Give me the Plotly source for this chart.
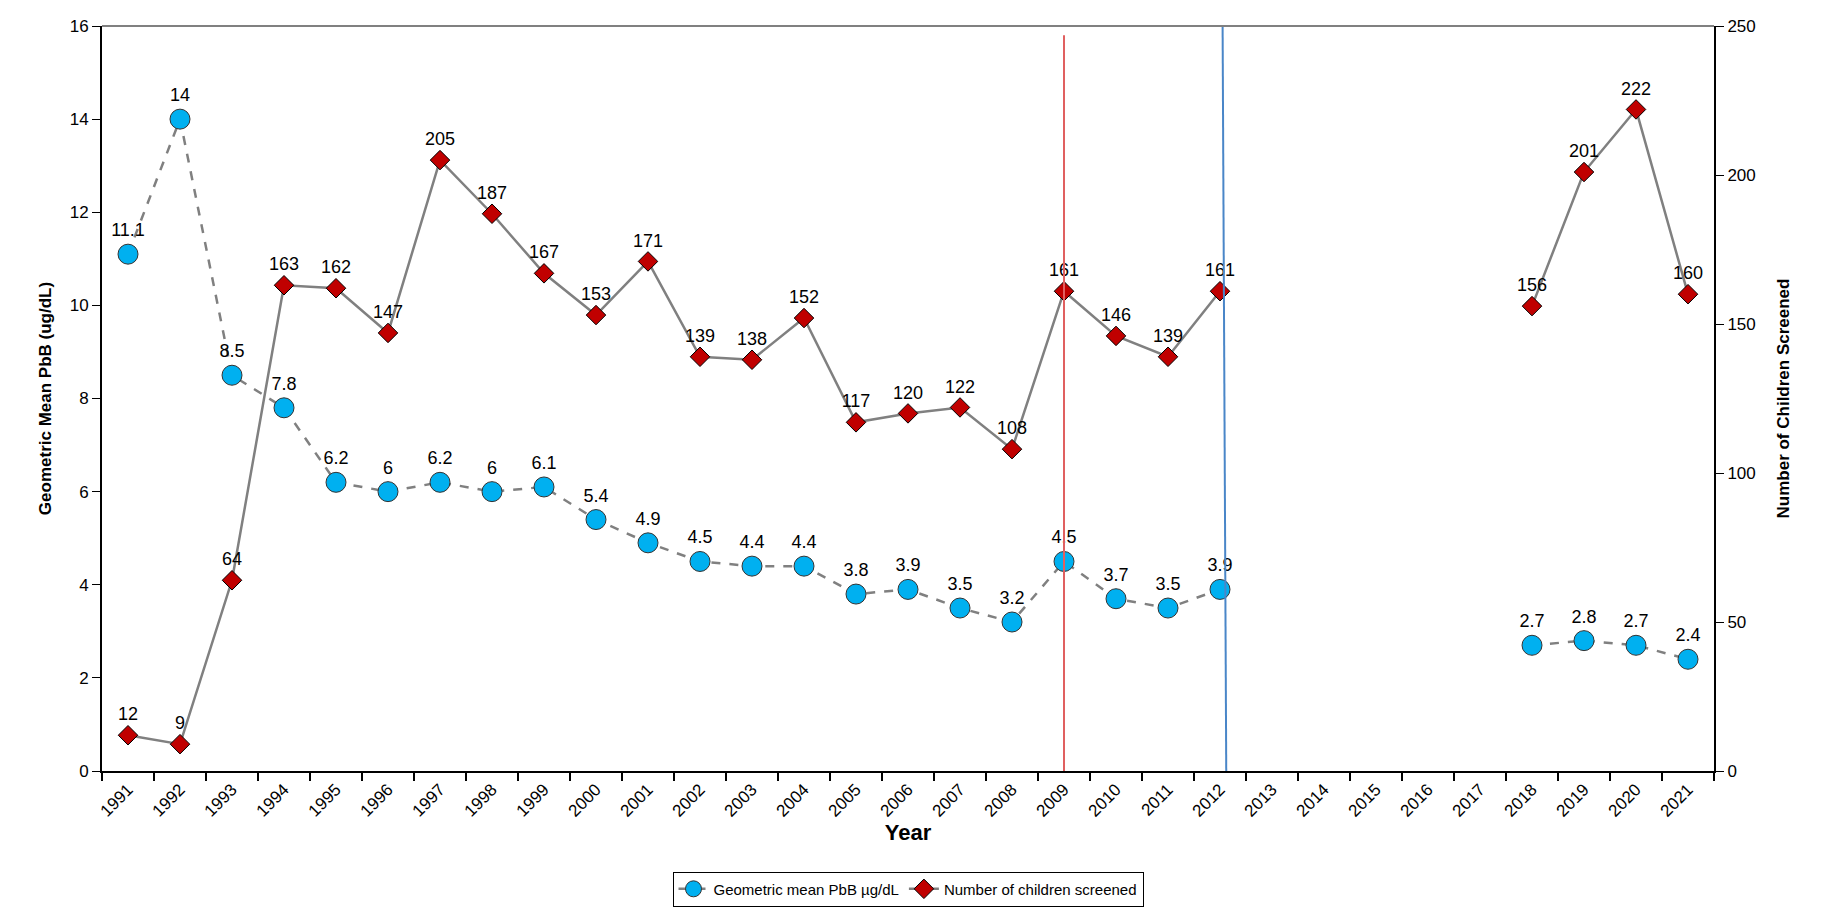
import plotly.graph_objects as go

years = [str(y) for y in range(1991, 2022)]
pbb = [11.1, 14, 8.5, 7.8, 6.2, 6, 6.2, 6, 6.1, 5.4, 4.9, 4.5, 4.4, 4.4, 3.8, 3.9, 3.5, 3.2, 4.5, 3.7, 3.5, 3.9,
       None, None, None, None, None, 2.7, 2.8, 2.7, 2.4]
screened = [12, 9, 64, 163, 162, 147, 205, 187, 167, 153, 171, 139, 138, 152, 117, 120, 122, 108, 161, 146, 139, 161,
            None, None, None, None, None, 156, 201, 222, 160]

idx = list(range(len(years)))
font = "Liberation Sans, Arial, sans-serif"

def lab(v):
    return "" if v is None else f"{v:g}"

fig = go.Figure()
fig.add_trace(go.Scatter(
    x=idx, y=pbb, mode="lines+markers+text", name="Geometric mean PbB µg/dL",
    line=dict(color="#808080", width=2.5, dash="dash"),
    marker=dict(symbol="circle", size=20, color="#00B0F0", line=dict(color="#333333", width=1)),
    text=[lab(v) for v in pbb], textposition="top center", textfont=dict(size=18, color="black"),
    connectgaps=False,
))
fig.add_trace(go.Scatter(
    x=idx, y=screened, yaxis="y2", mode="lines+markers+text", name="Number of children screened",
    line=dict(color="#808080", width=2.5),
    marker=dict(symbol="diamond", size=15, color="#C00000", line=dict(color="black", width=1)),
    text=[lab(v) for v in screened], textposition="top center", textfont=dict(size=18, color="black"),
    connectgaps=False,
))

# reference lines
fig.add_shape(type="line", xref="x", yref="y", x0=18, x1=18, y0=0, y1=15.8,
              line=dict(color="#E06060", width=2))
fig.add_shape(type="line", xref="x", yref="y", x0=21.05, x1=21.12, y0=16, y1=0,
              line=dict(color="#4A86C8", width=2))
# gray top border
fig.add_shape(type="line", xref="paper", yref="paper", x0=0, x1=1, y0=1, y1=1,
              line=dict(color="#808080", width=2))

fig.update_layout(
    width=1822, height=913,
    paper_bgcolor="white", plot_bgcolor="white",
    font=dict(family=font, size=16, color="black"),
    margin=dict(l=94, r=116, t=18, b=150, autoexpand=False),
    showlegend=True,
    legend=dict(orientation="h", x=0.5, xanchor="center", y=-0.135, yanchor="top",
                bordercolor="black", borderwidth=1, font=dict(size=15)),
    xaxis=dict(
        range=[-0.5, 30.5], tickvals=idx, ticktext=years, tickangle=-45, ticks="",
        tickfont=dict(size=17),
        minor=dict(tick0=0.5, dtick=1, ticks="outside", ticklen=8, tickcolor="black", tickwidth=1.5),
        showline=True, linecolor="black", linewidth=2, showgrid=False, zeroline=False,
        title=dict(text="<b>Year</b>", font=dict(size=22), standoff=0),
    ),
    yaxis=dict(
        range=[0, 16], dtick=2, ticks="outside", ticklen=8, tickcolor="black", tickfont=dict(size=17),
        showline=True, linecolor="black", linewidth=2, showgrid=False, zeroline=False,
        title=dict(text="<b>Geometric Mean PbB (ug/dL)</b>", font=dict(size=17), standoff=14),
    ),
    yaxis2=dict(
        range=[0, 250], dtick=50, overlaying="y", side="right", ticks="outside", ticklen=8,
        tickcolor="black", tickfont=dict(size=17),
        showline=True, linecolor="black", linewidth=2, showgrid=False, zeroline=False,
        title=dict(text="<b>Number of Children Screened</b>", font=dict(size=17), standoff=22),
    ),
)

fig.write_html("out.html")
